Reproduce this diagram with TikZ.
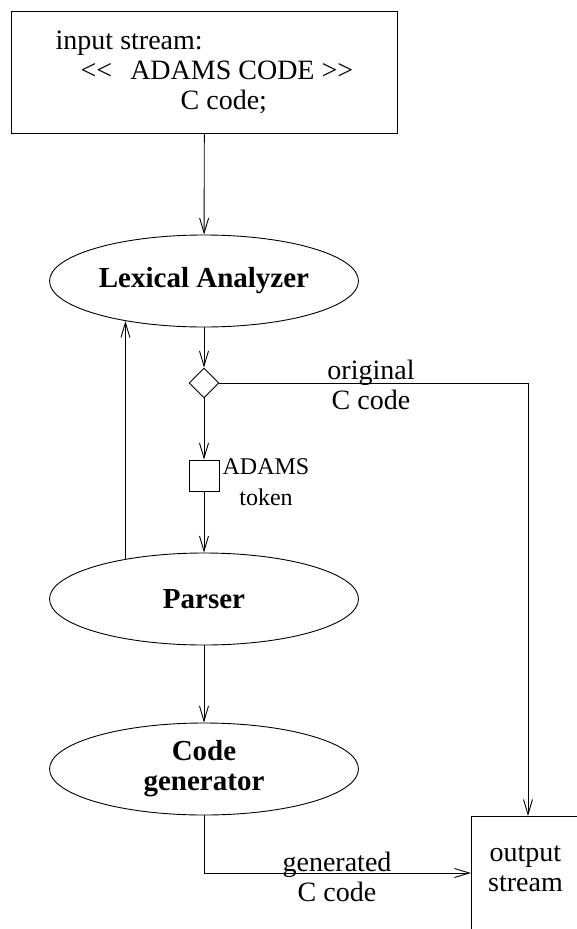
\documentclass[tikz,border=0pt]{standalone}
\usepackage{fontspec}
\setmainfont{Liberation Serif}
\usetikzlibrary{shapes.geometric,arrows.meta}
\begin{document}
\begin{tikzpicture}[x=1pt,y=-1pt,line width=0.9pt,
  arr/.style={-{Straight Barb[length=15pt,width=9pt]}},
  stage/.style={draw,ellipse,inner sep=0pt,minimum width=309pt,minimum height=92pt,align=center,font=\fontsize{29}{30}\selectfont\bfseries},
  lbl/.style={align=center}]
\fontsize{28}{30}\selectfont
\useasboundingbox (0,0) rectangle (577,929);

\node (input) [draw,anchor=north west,minimum width=386pt,minimum height=122pt,align=left] at (11,11)
  {input stream:\\ \hspace*{25pt}<\kern0pt<\hspace{18pt}ADAMS CODE >\kern0pt>\\ \hspace*{125pt}C code;};

\node (lex) [stage] at (204,281) {Lexical Analyzer};
\node (split) [draw,diamond,inner sep=0pt,minimum width=30pt,minimum height=30pt] at (204,383) {};
\node (tok) [draw,inner sep=0pt,minimum width=30pt,minimum height=31pt] at (204,475.5) {};
\node (parser) [stage] at (204,599) {Parser};
\node (codegen) [stage] at (204,769) {Code\\generator};
\node (out) [draw,anchor=north west,minimum width=108pt,align=center,inner ysep=29pt,text depth=60pt] at (471,816) {output\\stream};

\draw [arr] (input) -- (lex);
\draw [arr] (lex) -- (split);
\draw [arr] (split) -- (tok);
\draw [arr] (tok) -- (parser);
\draw [arr] (parser) -- (codegen);
\draw [arr] (parser.153) -- (lex.207);
\draw [arr] (split.east) -| ([xshift=57pt]out.north west);
\draw [arr] (codegen.south) |- ([yshift=-57pt]out.north west);

\node (orig) [lbl] at (371,385) {original\\C code};
\node (tokname) [lbl,font=\fontsize{24}{31}\selectfont] at (266,482) {ADAMS\\token};
\node (gen) [lbl] at (337,877) {generated\\C code};
\end{tikzpicture}
\end{document}
